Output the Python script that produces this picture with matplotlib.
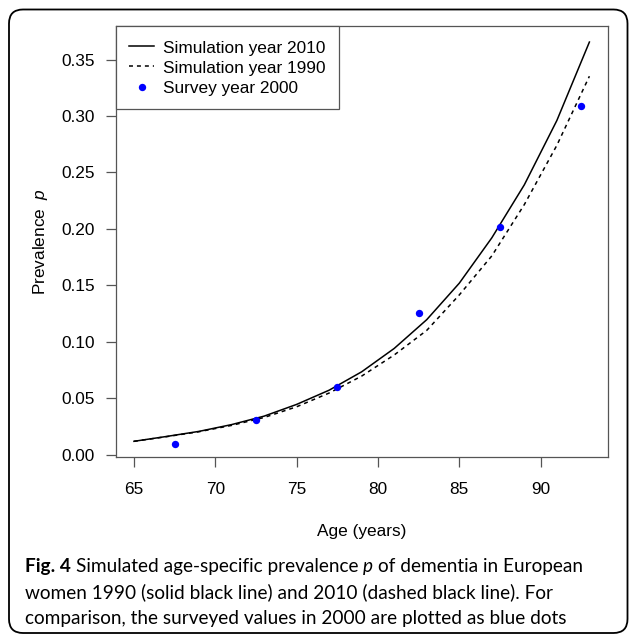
import matplotlib
matplotlib.use("Agg")
import matplotlib.pyplot as plt
from matplotlib.patches import FancyBboxPatch
from matplotlib.transforms import IdentityTransform

plt.rcParams['font.family'] = 'Liberation Sans'
plt.rcParams['mathtext.fontset'] = 'custom'
plt.rcParams['mathtext.rm'] = 'Liberation Sans'
plt.rcParams['mathtext.it'] = 'Liberation Sans:italic'

# simulated prevalence
ages_sim = [65, 67, 69, 71, 73, 75, 77, 79, 81, 83, 85, 87, 89, 91, 93]
prev_2010 = [0.0117, 0.0160, 0.0205, 0.0265, 0.0340, 0.0444, 0.0570, 0.0733,
             0.0940, 0.1195, 0.1518, 0.1920, 0.2390, 0.2960, 0.3655]
prev_1990 = [0.0117, 0.0158, 0.0202, 0.0258, 0.0328, 0.0423, 0.0545, 0.0695,
             0.0882, 0.1100, 0.1414, 0.1760, 0.2215, 0.2740, 0.3352]

# survey 2000
ages_survey = [67.5, 72.5, 77.5, 82.5, 87.5, 92.5]
prev_survey = [0.0092, 0.0304, 0.0595, 0.1257, 0.2020, 0.3085]

x_ticks = [65, 70, 75, 80, 85, 90]
y_ticks = [0.00, 0.05, 0.10, 0.15, 0.20, 0.25, 0.30, 0.35]

axis_grey = '#555555'
fs = 12.4

fig = plt.figure(figsize=(6.29, 6.36), dpi=100)
ax = fig.add_axes([0.184, 0.281, 0.782, 0.678])

ax.plot(ages_sim, prev_2010, color='black', lw=1.1, label='Simulation year 2010')
ax.plot(ages_sim, prev_1990, color='black', lw=1.1, ls=(0, (2.6, 2.6)),
        label='Simulation year 1990')
ax.plot(ages_survey, prev_survey, 'o', color='#0000ff', ms=5.3, mec='none',
        label='Survey year 2000')

# R style limits: data range plus 4% each side
xlo, xhi = min(ages_sim), max(ages_sim)
ylo, yhi = min(prev_2010), max(prev_2010)
ax.set_xlim(xlo - 0.04 * (xhi - xlo), xhi + 0.04 * (xhi - xlo))
ax.set_ylim(ylo - 0.04 * (yhi - ylo), yhi + 0.04 * (yhi - ylo))

ax.set_xticks(x_ticks)
ax.set_xticklabels([str(t) for t in x_ticks])
ax.set_yticks(y_ticks)
ax.set_yticklabels(['%.2f' % t for t in y_ticks])

for s in ax.spines.values():
    s.set_color(axis_grey)
    s.set_linewidth(0.9)
ax.tick_params(length=7.5, width=0.9, color=axis_grey, labelsize=fs)
ax.tick_params(axis='y', pad=7.5)
ax.tick_params(axis='x', pad=10.5)

ax.set_xlabel('Age (years)', fontsize=fs, labelpad=19)
ax.set_ylabel('Prevalence  $p$', fontsize=fs, labelpad=8)

leg = ax.legend(loc='upper left', borderaxespad=0, fontsize=fs, fancybox=False,
                edgecolor=axis_grey, framealpha=1, handlelength=1.5,
                handleheight=1.0, handletextpad=0.5, borderpad=0.75,
                labelspacing=0.22)
leg.get_frame().set_linewidth(0.9)

# outer rounded frame
frame = FancyBboxPatch((9, 3), 618.5, 623.5, boxstyle='round,pad=0,rounding_size=14',
                       transform=IdentityTransform(), fill=False, ec='black', lw=1.3)
fig.add_artist(frame)

# caption with mixed bold / italic pieces
cap_font = 'Lato'
cap_size = 13.7
renderer = fig.canvas.get_renderer()


def width_of(s, **kw):
    t = fig.text(0, 0, s, fontfamily=cap_font, fontsize=cap_size, **kw)
    w = t.get_window_extent(renderer).width
    t.remove()
    return w


space_w = width_of('a a') - width_of('aa')

caption = [
    (572, [('Fig. 4', 'bold', 'normal'),
           ('Simulated age-specific prevalence', 'normal', 'normal'),
           ('p', 'normal', 'italic'),
           ('of dementia in European', 'normal', 'normal')]),
    (598, [('women 1990 (solid black line) and 2010 (dashed black line). For', 'normal', 'normal')]),
    (624, [('comparison, the surveyed values in 2000 are plotted as blue dots', 'normal', 'normal')]),
]

for base_y, pieces in caption:
    x = 25
    for txt, weight, style in pieces:
        t = fig.text(x / 629, 1 - base_y / 636, txt, fontfamily=cap_font,
                     fontsize=cap_size, fontweight=weight, fontstyle=style,
                     va='baseline', ha='left', color='black')
        x += t.get_window_extent(renderer).width + space_w

fig.savefig('out.png', dpi=100)
